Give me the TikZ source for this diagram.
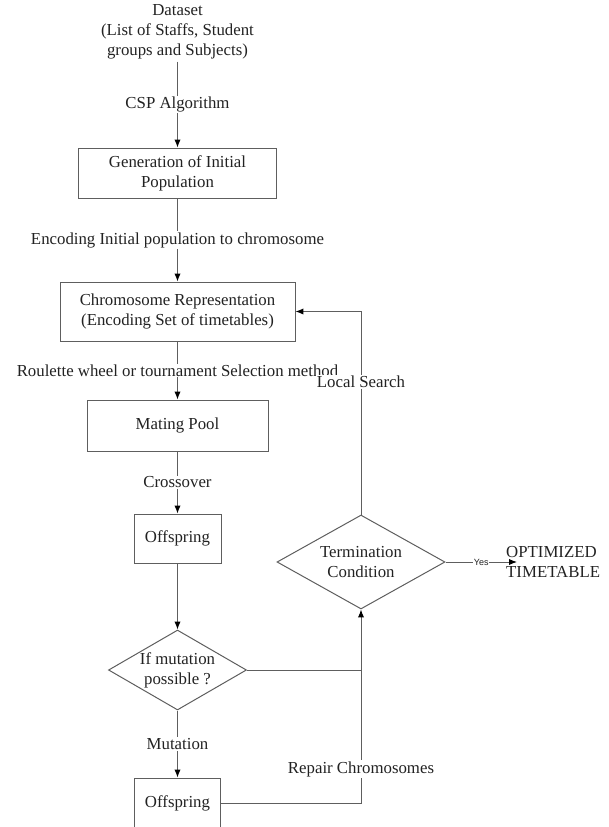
\documentclass[tikz,border=0pt]{standalone}
\usepackage{fontspec}
\setmainfont{Liberation Serif}
\newfontfamily\yesfont{Liberation Sans}
\definecolor{LineGray}{HTML}{5E5E5E}
\definecolor{InkGray}{HTML}{222222}
\usetikzlibrary{arrows.meta,positioning,shapes.geometric}
\newcommand{\flowfont}{\fontsize{16.8}{20}\selectfont}
\tikzset{
  box/.style={draw=LineGray, line width=1pt, fill=white, align=center, inner sep=2pt, font=\flowfont, text=InkGray},
  decision/.style={draw=LineGray, line width=1pt, diamond, aspect=1.72, inner sep=0pt, align=center, font=\flowfont, text=InkGray},
  arrow/.style={-{Latex[length=2.8mm,width=2.2mm,color=black]}, draw=LineGray, line width=1pt},
  plainline/.style={draw=LineGray, line width=1pt},
  edgeLabel/.style={fill=white, inner sep=1pt, font=\flowfont, text=InkGray},
  yesLabel/.style={fill=white, inner sep=0.5pt, font=\yesfont\fontsize{9}{10}\selectfont, text=InkGray}
}

\begin{document}
\begin{tikzpicture}[x=1pt,y=-1pt]
  \useasboundingbox (0,0) rectangle (608,827);

  \node[align=center, font=\flowfont, text=InkGray, inner sep=2pt] (data) at (177.5,32)
    {Dataset\\(List of Staffs, Student\\groups and Subjects)};

  \node[box, minimum width=198, minimum height=50] (gen) at (177.5,173)
    {Generation of Initial\\Population};
  \node[box, minimum width=235, minimum height=59] (chrom) at (177.5,311.5)
    {Chromosome Representation\\(Encoding Set of timetables)};
  \node[box, minimum width=181, minimum height=51] (mating) at (177.5,425.5) {Mating Pool};
  \node[box, minimum width=87, minimum height=49] (off1) at (177.5,538.5) {Offspring};
  \node[decision, minimum width=138, minimum height=80] (mut) at (177.5,670)
    {If mutation\\possible ?};
  \node[box, minimum width=86, minimum height=50] (off2) at (177.5,803) {Offspring};

  \node[decision, minimum width=168, minimum height=94] (term) at (361,562)
    {Termination\\Condition};
  \node[anchor=west, align=left, font=\flowfont, text=InkGray, inner sep=0pt] (opt) at (506,562)
    {OPTIMIZED\\TIMETABLE};
  \coordinate (yesend) at (517,562);

  % main column
  \draw[arrow] (data) -- node[edgeLabel] {CSP Algorithm} (gen);
  \draw[arrow] (gen) -- node[edgeLabel] {Encoding Initial population to chromosome} (chrom);
  \draw[arrow] (chrom) -- node[edgeLabel] {Roulette wheel or tournament Selection method} (mating);
  \draw[arrow] (mating) -- node[edgeLabel] {Crossover} (off1);
  \draw[arrow] (off1) -- (mut);
  \draw[arrow] (mut) -- node[edgeLabel] {Mutation} (off2);

  % loops back
  \draw[plainline] (mut.east) -- (mut.east -| term.south);
  \draw[arrow] (off2.east) -- (off2.east -| term.south) -- (term.south);
  \draw[arrow] (term.north) |- (chrom.east);
  \draw[arrow] (term.east) -- node[yesLabel] {Yes} (yesend);

  \node[edgeLabel] (repairlbl) at (361,769) {Repair Chromosomes};
  \node[edgeLabel] (locallbl) at (361,382) {Local Search};
\end{tikzpicture}
\end{document}
